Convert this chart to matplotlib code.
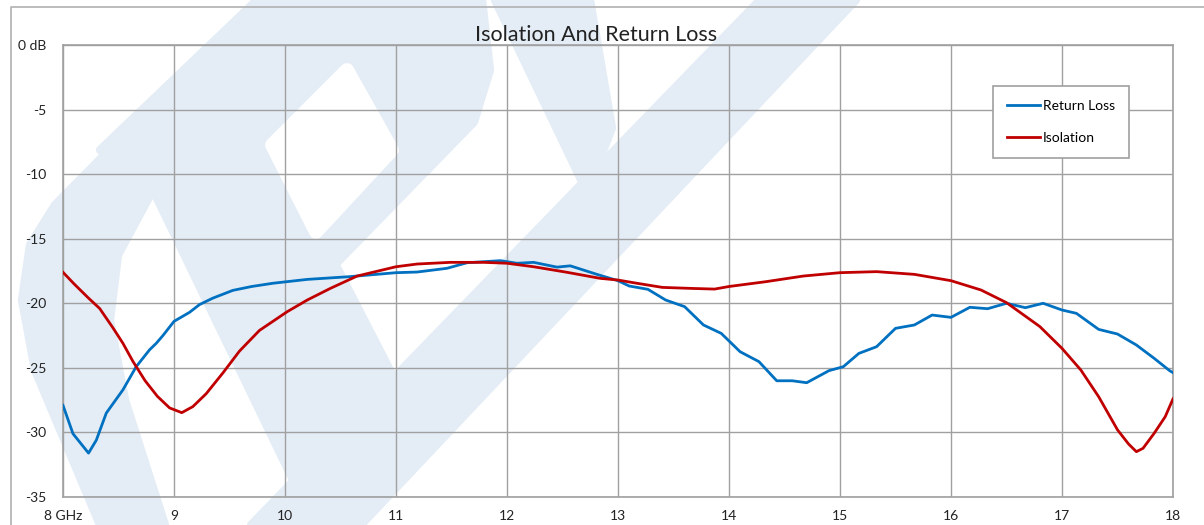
import matplotlib
matplotlib.use("Agg")
import matplotlib.pyplot as plt
from matplotlib.patches import Polygon

plt.rcParams['font.family'] = ['Lato', 'DejaVu Sans']

# Return Loss (blue)
rl_freq = [8.00, 8.09, 8.23, 8.30, 8.39, 8.54, 8.66, 8.78, 8.84, 8.90, 9.00, 9.14, 9.23, 9.35, 9.53,
           9.70, 9.89, 10.20, 10.58, 11.00, 11.19, 11.46, 11.64, 11.94, 12.09, 12.24, 12.45, 12.57,
           12.81, 13.00, 13.10, 13.27, 13.43, 13.60, 13.77, 13.93, 14.10, 14.27, 14.43, 14.57, 14.70,
           14.90, 15.03, 15.17, 15.33, 15.50, 15.67, 15.83, 16.00, 16.17, 16.33, 16.50, 16.67, 16.83,
           17.00, 17.13, 17.33, 17.50, 17.67, 17.83, 17.97, 18.00]
rl_db = [-27.9, -30.1, -31.6, -30.6, -28.5, -26.7, -24.9, -23.6, -23.1, -22.5, -21.4, -20.7, -20.1, -19.6, -19.0,
         -18.7, -18.45, -18.15, -17.94, -17.63, -17.58, -17.29, -16.86, -16.7, -16.9, -16.83, -17.2, -17.1,
         -17.76, -18.25, -18.66, -18.92, -19.75, -20.26, -21.68, -22.33, -23.75, -24.52, -26.0, -26.0, -26.15,
         -25.22, -24.91, -23.88, -23.36, -21.94, -21.68, -20.91, -21.09, -20.31, -20.42, -20.0, -20.34, -20.0,
         -20.52, -20.78, -22.02, -22.38, -23.23, -24.26, -25.22, -25.37]

# Isolation (red)
iso_freq = [8.00, 8.10, 8.23, 8.33, 8.45, 8.54, 8.63, 8.74, 8.85, 8.96, 9.07, 9.17, 9.29, 9.44, 9.59,
            9.77, 10.02, 10.20, 10.41, 10.65, 11.00, 11.19, 11.49, 11.79, 12.00, 12.24, 12.54, 12.84,
            13.00, 13.17, 13.40, 13.67, 13.87, 14.00, 14.33, 14.67, 15.00, 15.33, 15.67, 16.00, 16.27,
            16.50, 16.80, 17.00, 17.17, 17.33, 17.50, 17.60, 17.67, 17.73, 17.83, 17.93, 18.00]
iso_db = [-17.6, -18.5, -19.6, -20.4, -21.9, -23.1, -24.5, -26.0, -27.2, -28.1, -28.47, -28.0, -27.0, -25.4, -23.7,
          -22.1, -20.65, -19.75, -18.84, -17.89, -17.17, -16.96, -16.83, -16.83, -16.9, -17.17, -17.6, -18.07,
          -18.2, -18.45, -18.77, -18.85, -18.9, -18.7, -18.33, -17.89, -17.63, -17.55, -17.76, -18.25, -18.97,
          -19.95, -21.8, -23.49, -25.17, -27.23, -29.8, -30.9, -31.49, -31.23, -30.07, -28.78, -27.4]

x_ticks = [8, 9, 10, 11, 12, 13, 14, 15, 16, 17, 18]
x_labels = ['8 GHz', '9', '10', '11', '12', '13', '14', '15', '16', '17', '18']
y_ticks = [0, -5, -10, -15, -20, -25, -30, -35]
y_labels = ['0 dB', '-5', '-10', '-15', '-20', '-25', '-30', '-35']

# faint logo watermark behind the chart (pixel coords, y down)
wm_blue = [
    # left outer stroke
    [(257, 0), (380, 0), (153, 190), (118, 255), (110, 320), (125, 400), (165, 525), (100, 525),
     (35, 370), (22, 300), (30, 245), (55, 205)],
    # bowl
    [(257, 0), (482, 0), (490, 70), (474, 122), (325, 275), (273, 143), (153, 190), (100, 150)],
    # stem
    [(153, 190), (273, 143), (394, 378), (293, 480)],
    # long diagonal
    [(760, 0), (856, 0), (361, 525), (251, 525)],
    # short stroke
    [(495, 0), (590, 0), (612, 128), (587, 192)],
]
wm_white = [
    [(347, 70), (392, 150), (316, 232), (272, 145)],
]

W, H = 1204, 525
fig = plt.figure(figsize=(W / 100, H / 100), dpi=100)

bg = fig.add_axes([0, 0, 1, 1], zorder=0)
bg.set_xlim(0, W)
bg.set_ylim(H, 0)
bg.axis('off')
for poly in wm_blue:
    bg.add_patch(Polygon(poly, closed=True, facecolor='#E4EDF6', edgecolor='#E4EDF6',
                         lw=6, joinstyle='round'))
for poly in wm_white:
    bg.add_patch(Polygon(poly, closed=True, facecolor='white', edgecolor='white',
                         lw=10, joinstyle='round'))
bg.plot([11, 11, W], [H, 7, 7], color='#B0B0B0', lw=1.2)

ax = fig.add_axes([63 / W, (H - 497) / H, 1110 / W, 452 / H], zorder=1)
ax.set_facecolor('none')
ax.plot(rl_freq, rl_db, color='#0070C0', lw=2.0, label='Return Loss', zorder=3)
ax.plot(iso_freq, iso_db, color='#C00000', lw=2.0, label='Isolation', zorder=3)

ax.set_xlim(8, 18)
ax.set_ylim(-35, 0)
ax.set_xticks(x_ticks)
ax.set_xticklabels(x_labels)
ax.set_yticks(y_ticks)
ax.set_yticklabels(y_labels)
ax.tick_params(length=0, labelsize=10, colors='#222222')
ax.tick_params(axis='y', pad=12)
ax.tick_params(axis='x', pad=9)
ax.grid(True, color='#A0A0A0', lw=1.0)
for s in ax.spines.values():
    s.set_color('#A0A0A0')
    s.set_linewidth(1.2)

fig.text(596 / W, 1 - 41 / H, 'Isolation And Return Loss', fontsize=15.5, color='#222222',
         ha='center', va='baseline')

leg = ax.legend(loc='upper left', bbox_to_anchor=((993 - 63) / 1110, (497 - 86) / 452),
                fontsize=10, handlelength=2.4, handletextpad=0.2, labelspacing=1.45,
                borderpad=1.0, fancybox=False, framealpha=1, borderaxespad=0)
leg.get_frame().set_edgecolor('#A0A0A0')
leg.get_frame().set_linewidth(1.2)

fig.savefig('out.png', dpi=100)
